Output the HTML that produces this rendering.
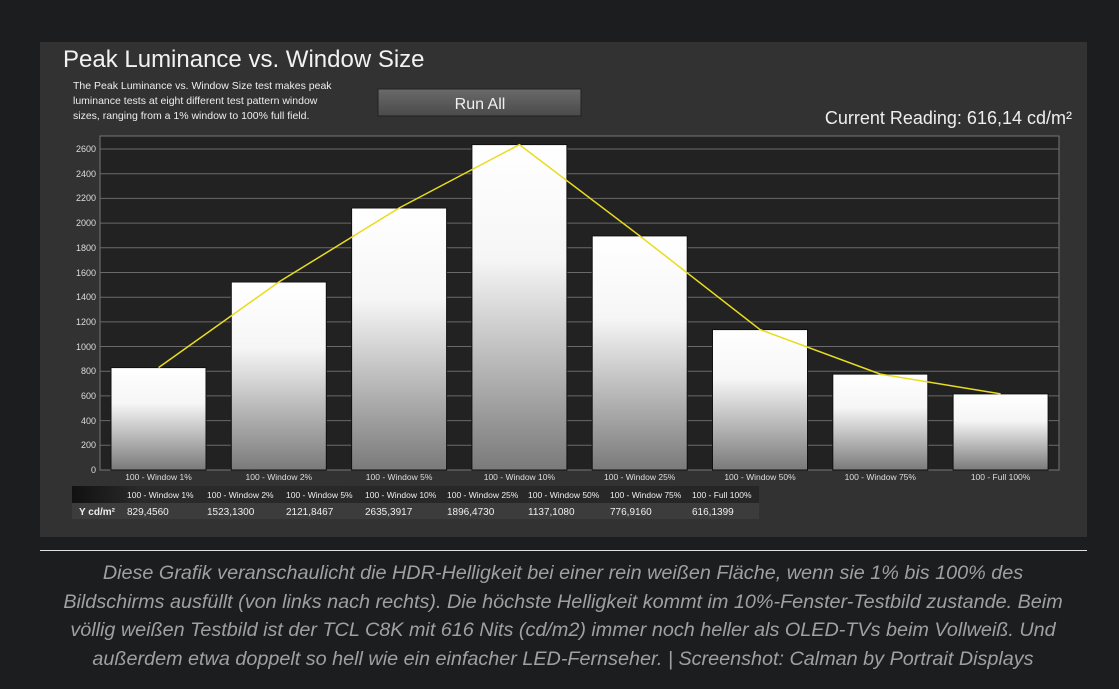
<!DOCTYPE html>
<html><head><meta charset="utf-8"><style>
html,body{margin:0;padding:0;background:#1c1d1f;width:1119px;height:689px;overflow:hidden}
svg{display:block}
</style></head><body>
<svg width="1119" height="689" viewBox="0 0 1119 689" xmlns="http://www.w3.org/2000/svg" font-family="Liberation Sans, sans-serif">
<defs>
<linearGradient id="bg" x1="0" y1="0" x2="0" y2="1">
<stop offset="0" stop-color="#ffffff"/><stop offset="0.35" stop-color="#f6f6f6"/><stop offset="1" stop-color="#7a7a7a"/>
</linearGradient>
<linearGradient id="btn" x1="0" y1="0" x2="0" y2="1">
<stop offset="0" stop-color="#6a6a6a"/><stop offset="1" stop-color="#4a4a4a"/>
</linearGradient>
<linearGradient id="hdr" x1="0" y1="0" x2="1" y2="0">
<stop offset="0" stop-color="#111"/><stop offset="0.1" stop-color="#2a2a2a"/><stop offset="1" stop-color="#262626"/>
</linearGradient>
</defs>
<rect x="40" y="42" width="1047" height="495" fill="#323232"/>
<text x="63" y="67" font-size="24" fill="#f2f2f2">Peak Luminance vs. Window Size</text>
<text font-size="10.5" fill="#eeeeee"><tspan x="73" y="89">The Peak Luminance vs. Window Size test makes peak</tspan><tspan x="73" y="104">luminance tests at eight different test pattern window</tspan><tspan x="73" y="119">sizes, ranging from a 1% window to 100% full field.</tspan></text>
<rect x="378" y="89" width="203" height="27" fill="url(#btn)" stroke="#222"/>
<text x="480" y="109" font-size="16" fill="#f0f0f0" text-anchor="middle">Run All</text>
<text x="1072" y="124" font-size="18" fill="#eeeeee" text-anchor="end">Current Reading: 616,14 cd/m²</text>
<rect x="100" y="136" width="959" height="334" fill="#222222" stroke="#777" stroke-width="1"/>
<g stroke="#6a6a6a" stroke-width="1">
<line x1="100" x2="1059" y1="445.3" y2="445.3"/><line x1="100" x2="1059" y1="420.6" y2="420.6"/>
<line x1="100" x2="1059" y1="395.9" y2="395.9"/><line x1="100" x2="1059" y1="371.2" y2="371.2"/>
<line x1="100" x2="1059" y1="346.5" y2="346.5"/><line x1="100" x2="1059" y1="321.9" y2="321.9"/>
<line x1="100" x2="1059" y1="297.2" y2="297.2"/><line x1="100" x2="1059" y1="272.5" y2="272.5"/>
<line x1="100" x2="1059" y1="247.8" y2="247.8"/><line x1="100" x2="1059" y1="223.1" y2="223.1"/>
<line x1="100" x2="1059" y1="198.4" y2="198.4"/><line x1="100" x2="1059" y1="173.7" y2="173.7"/>
<line x1="100" x2="1059" y1="149" y2="149"/>
</g>
<g font-size="9" fill="#dddddd" text-anchor="end">
<text x="96" y="473">0</text><text x="96" y="448">200</text><text x="96" y="424">400</text><text x="96" y="399">600</text><text x="96" y="374">800</text><text x="96" y="350">1000</text><text x="96" y="325">1200</text><text x="96" y="300">1400</text><text x="96" y="276">1600</text><text x="96" y="251">1800</text><text x="96" y="226">2000</text><text x="96" y="201">2200</text><text x="96" y="177">2400</text><text x="96" y="152">2600</text>
</g>
<g fill="url(#bg)" stroke="#111" stroke-width="1">
<rect x="111" y="367.6" width="95" height="102.4"/>
<rect x="231.3" y="282" width="95" height="188"/>
<rect x="351.6" y="208" width="95" height="262"/>
<rect x="471.9" y="144.6" width="95" height="325.4"/>
<rect x="592.2" y="235.9" width="95" height="234.1"/>
<rect x="712.5" y="329.6" width="95" height="140.4"/>
<rect x="832.8" y="374.1" width="95" height="95.9"/>
<rect x="953.1" y="393.9" width="95" height="76.1"/>
</g>
<polyline fill="none" stroke="#e8dc20" stroke-width="1.5" points="158.5,367.6 278.8,282 399.1,208 519.4,144.6 639.7,235.9 760,329.6 880.3,374.1 1000.6,393.9"/>
<g font-size="8.5" fill="#dddddd" text-anchor="middle">
<text x="158.5" y="480">100 - Window  1%</text><text x="278.8" y="480">100 - Window  2%</text><text x="399.1" y="480">100 - Window  5%</text><text x="519.4" y="480">100 - Window 10%</text><text x="639.7" y="480">100 - Window 25%</text><text x="760" y="480">100 - Window 50%</text><text x="880.3" y="480">100 - Window 75%</text><text x="1000.6" y="480">100 - Full  100%</text>
</g>
<rect x="72" y="486" width="687" height="17" fill="url(#hdr)"/>
<rect x="72" y="503" width="687" height="16" fill="#3c3c3c"/>
<g font-size="8.5" fill="#eeeeee">
<text x="127" y="498">100 - Window  1%</text><text x="207" y="498">100 - Window  2%</text><text x="286" y="498">100 - Window  5%</text><text x="365" y="498">100 - Window 10%</text><text x="447" y="498">100 - Window 25%</text><text x="528" y="498">100 - Window 50%</text><text x="610" y="498">100 - Window 75%</text><text x="692" y="498">100 - Full  100%</text>
</g>
<g font-size="10" fill="#eeeeee">
<text x="79" y="515" font-weight="bold">Y cd/m²</text>
<text x="127" y="515">829,4560</text><text x="207" y="515">1523,1300</text><text x="286" y="515">2121,8467</text><text x="365" y="515">2635,3917</text><text x="447" y="515">1896,4730</text><text x="528" y="515">1137,1080</text><text x="610" y="515">776,9160</text><text x="692" y="515">616,1399</text>
</g>
<line x1="40" x2="1087" y1="550.5" y2="550.5" stroke="#e0e0e0" stroke-width="1"/>
<g font-size="19.8" fill="#a0a0a0" font-style="italic" text-anchor="middle">
<text x="563" y="579">Diese Grafik veranschaulicht die HDR-Helligkeit bei einer rein weißen Fläche, wenn sie 1% bis 100% des</text>
<text x="563" y="608">Bildschirms ausfüllt (von links nach rechts). Die höchste Helligkeit kommt im 10%-Fenster-Testbild zustande. Beim</text>
<text x="563" y="636">völlig weißen Testbild ist der TCL C8K mit 616 Nits (cd/m2) immer noch heller als OLED-TVs beim Vollweiß. Und</text>
<text x="563" y="665">außerdem etwa doppelt so hell wie ein einfacher LED-Fernseher. | Screenshot: Calman by Portrait Displays</text>
</g>
</svg>
</body></html>
